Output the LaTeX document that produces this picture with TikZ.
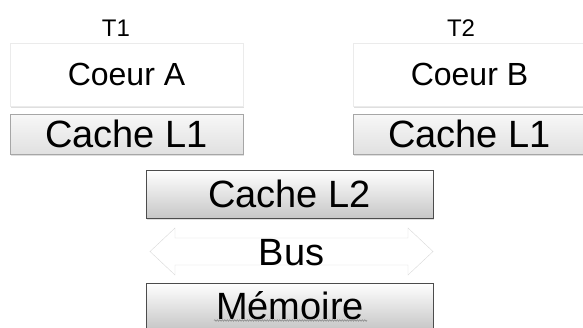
\documentclass[tikz,border=0pt]{standalone}
\usepackage{fontspec}
\setmainfont{Liberation Sans}
\usetikzlibrary{shadows,decorations.pathmorphing}

\tikzset{
	coeur/.style = {fill=white, draw=black!8, minimum width=233pt, minimum height=63pt, inner sep=0pt, drop shadow={shadow xshift=.5pt, shadow yshift=-1.5pt, opacity=.25}, font=\fontsize{32}{34}\selectfont},
	lun/.style = {top color=black!3, bottom color=black!12, draw=black!35, minimum width=233pt, minimum height=40pt, inner sep=0pt, drop shadow={shadow xshift=.5pt, shadow yshift=-1.5pt, opacity=.25}, font=\fontsize{38}{40}\selectfont},
	partage/.style = {top color=white, bottom color=black!22, draw=black!70, minimum width=287pt, minimum height=48pt, inner sep=0pt, drop shadow={shadow xshift=.5pt, shadow yshift=-1.5pt, opacity=.25}, font=\fontsize{38}{40}\selectfont},
	fil/.style = {font=\fontsize{24}{26}\selectfont, inner sep=0pt}
}

\begin{document}
\begin{tikzpicture}[x=1pt, y=-1pt]
		\useasboundingbox (0,0) rectangle (583,327);
		
		\node [fil] (tA) at (116, 28) {T1};
		\node [fil] (tB) at (461, 28) {T2};
		
		\node [coeur] (coeurA) at (126.5, 74.5) {Coeur A};
		\node [coeur] (coeurB) at (469.5, 74.5) {Coeur B};
		
		\node [lun] (lunA) at (126.5, 134) {Cache L1};
		\node [lun] (lunB) at (469.5, 134) {Cache L1};
		
		\node [partage] (ldeux) at (289.5, 194) {Cache L2};
		
		\draw [fill=white, draw = black!15] (150,251.5) -- (175,228) -- (175,238) -- (408,238) -- (408,228) -- (433,251.5) -- (408,275) -- (408,265) -- (175,265) -- (175,275) -- cycle;
		\node [font=\fontsize{38}{40}\selectfont, inner sep=0pt] (bus) at (291.5, 253) {Bus};
		
		\node [partage, minimum height=46pt] (memoire) at (290, 306) {Mémoire};
		\draw [black!45, line width=.6pt, decorate, decoration={snake, amplitude=.8pt, segment length=2.5pt}] (214,320.5) -- (367,320.5);
		
\end{tikzpicture}
\end{document}
